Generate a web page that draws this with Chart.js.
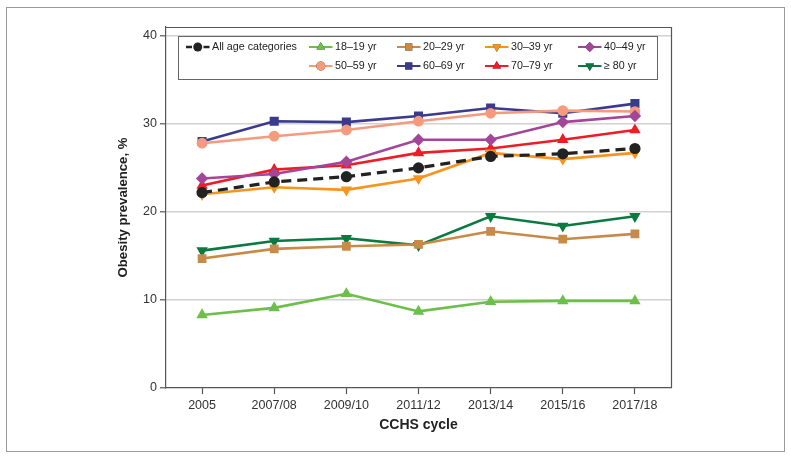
<!DOCTYPE html>
<html>
<head>
<meta charset="utf-8">
<script src="https://cdn.jsdelivr.net/npm/chart.js@4/dist/chart.umd.min.js"></script>
<style>
  html, body { margin: 0; padding: 0; background: #fff; }
  #wrap { width: 791px; height: 458px; position: relative; }
</style>
</head>
<body>
<div id="wrap"><canvas id="c" width="791" height="458"></canvas></div>
<script>
const categories = ['2005', '2007/08', '2009/10', '2011/12', '2013/14', '2015/16', '2017/18'];
const yTicks = [0, 10, 20, 30, 40];
const seriesNames = ['All age categories', '18\u201319 yr', '20\u201329 yr', '30\u201339 yr', '40\u201349 yr',
                     '50\u201359 yr', '60\u201369 yr', '70\u201379 yr', '\u2265 80 yr'];
const allAges  = [22.2, 23.4, 24.0, 25.0, 26.3, 26.6, 27.2];
const age18_19 = [8.3, 9.1, 10.7, 8.7, 9.8, 9.9, 9.9];
const age20_29 = [14.7, 15.8, 16.1, 16.3, 17.8, 16.9, 17.5];
const age30_39 = [22.0, 22.8, 22.5, 23.8, 26.7, 26.0, 26.7];
const age40_49 = [23.8, 24.3, 25.7, 28.2, 28.2, 30.2, 30.9];
const age50_59 = [27.8, 28.6, 29.3, 30.3, 31.2, 31.5, 31.4];
const age60_69 = [28.0, 30.3, 30.2, 30.9, 31.8, 31.2, 32.3];
const age70_79 = [23.0, 24.8, 25.3, 26.7, 27.2, 28.2, 29.3];
const age80plus = [15.6, 16.7, 17.0, 16.2, 19.5, 18.4, 19.5];

const seriesData = [allAges, age18_19, age20_29, age30_39, age40_49, age50_59, age60_69, age70_79, age80plus];
const colors = ['#222222', '#6cbf4a', '#c78b47', '#f7941e', '#a3469a', '#f59a7c', '#3b3b8e', '#ee1c25', '#0a7a40'];
const markers = ['circle', 'triangle', 'rect', 'triangle', 'rectRot', 'circle', 'rect', 'triangle', 'triangle'];
const rotations = [0, 0, 0, 180, 0, 0, 0, 0, 180];
const radii = [5.6, 6.6, 6.2, 6.6, 6.2, 5.4, 6.4, 6.6, 6.6];

const FONT = "'Liberation Sans', Arial, Helvetica, sans-serif";

const datasets = seriesData.map((d, i) => ({
  label: seriesNames[i],
  data: d,
  borderColor: colors[i],
  backgroundColor: colors[i],
  pointBackgroundColor: colors[i],
  pointBorderColor: colors[i],
  pointStyle: markers[i],
  rotation: rotations[i],
  pointRadius: radii[i],
  pointBorderWidth: 0,
  borderWidth: i === 0 ? 3.2 : 2.6,
  borderDash: i === 0 ? [10, 6] : [],
  tension: 0,
  fill: false
}));

const legendLayout = [
  [0, 1, 2, 3, 4],
  [null, 5, 6, 7, 8]
];
const legendCols = [186, 309, 397, 485, 578];
const legendRows = [47, 66];

const framePlugin = {
  id: 'framePlugin',
  beforeDraw(chart) {
    const ctx = chart.ctx;
    ctx.save();
    ctx.fillStyle = '#fff';
    ctx.fillRect(0, 0, chart.width, chart.height);
    ctx.strokeStyle = '#9a9a9a';
    ctx.lineWidth = 1;
    ctx.strokeRect(6.5, 7.5, 778, 444);
    ctx.restore();
  },
  afterDraw(chart) {
    const ctx = chart.ctx;
    const a = chart.chartArea;
    ctx.save();
    ctx.strokeStyle = '#555';
    ctx.lineWidth = 1.2;
    ctx.beginPath();
    ctx.moveTo(a.left, a.top + 0.5);
    ctx.lineTo(a.right + 0.5, a.top + 0.5);
    ctx.lineTo(a.right + 0.5, a.bottom);
    ctx.stroke();

    // legend box
    ctx.fillStyle = '#fff';
    ctx.fillRect(178, 36, 479, 43);
    ctx.strokeStyle = '#666';
    ctx.lineWidth = 1;
    ctx.strokeRect(178.5, 36.5, 479, 43);

    ctx.font = '10.7px ' + FONT;
    ctx.textBaseline = 'middle';
    ctx.textAlign = 'left';
    legendLayout.forEach((row, r) => {
      row.forEach((idx, c) => {
        if (idx === null) return;
        const ds = chart.data.datasets[idx];
        const x0 = legendCols[c];
        const y = legendRows[r];
        ctx.save();
        ctx.strokeStyle = ds.borderColor;
        ctx.lineWidth = idx === 0 ? 2.6 : 2;
        if (idx === 0) ctx.setLineDash([6, 11.5]);
        ctx.beginPath();
        ctx.moveTo(x0, y);
        ctx.lineTo(x0 + 23.5, y);
        ctx.stroke();
        ctx.restore();
        Chart.helpers.drawPoint(ctx, {
          pointStyle: ds.pointStyle,
          rotation: ds.rotation,
          radius: ds.pointStyle === 'circle' ? 4.5 : 5,
          borderWidth: 0
        }, x0 + 11.75, y);
        ctx.fillStyle = ds.backgroundColor;
        ctx.fill();
        ctx.fillStyle = '#222';
        ctx.fillText(ds.label, x0 + 26, y + 0.5);
      });
    });
    ctx.restore();
  }
};

new Chart(document.getElementById('c'), {
  type: 'line',
  data: { labels: categories, datasets: datasets },
  plugins: [framePlugin],
  options: {
    responsive: false,
    animation: false,
    devicePixelRatio: 1,
    layout: { padding: { left: 0, top: 27, right: 120, bottom: 0 } },
    plugins: {
      legend: { display: false },
      tooltip: { enabled: false }
    },
    scales: {
      x: {
        type: 'category',
        offset: true,
        afterFit(scale) { scale.height = 70; },
        grid: {
          display: true,
          drawOnChartArea: false,
          drawTicks: true,
          tickLength: 6,
          tickColor: '#555',
          tickWidth: 1.2
        },
        border: { display: true, color: '#555', width: 1.2 },
        ticks: {
          color: '#333',
          font: { family: FONT, size: 12.5 },
          padding: 4,
          maxRotation: 0,
          autoSkip: false
        },
        title: {
          display: true,
          text: 'CCHS cycle',
          color: '#222',
          font: { family: FONT, size: 14, weight: 'bold' },
          padding: { top: 0, bottom: 24.5 }
        }
      },
      y: {
        type: 'linear',
        min: 0,
        max: 41,
        afterFit(scale) { scale.width = 166; },
        afterBuildTicks(scale) {
          scale.ticks = yTicks.map(v => ({ value: v }));
        },
        grid: {
          display: true,
          drawOnChartArea: true,
          drawTicks: true,
          tickLength: 6,
          color: (ctx) => (ctx.tick && ctx.tick.value === 0) ? 'rgba(0,0,0,0)' : '#d2d2d2',
          lineWidth: 1.6,
          tickColor: '#555',
          tickWidth: 1.2
        },
        border: { display: true, color: '#555', width: 1.2 },
        ticks: {
          color: '#333',
          font: { family: FONT, size: 12.5 },
          padding: 3
        },
        title: {
          display: true,
          text: 'Obesity prevalence, %',
          color: '#222',
          font: { family: FONT, size: 13.2, weight: 'bold' },
          padding: { top: 115, bottom: 0 }
        }
      }
    }
  }
});
</script>
</body>
</html>
